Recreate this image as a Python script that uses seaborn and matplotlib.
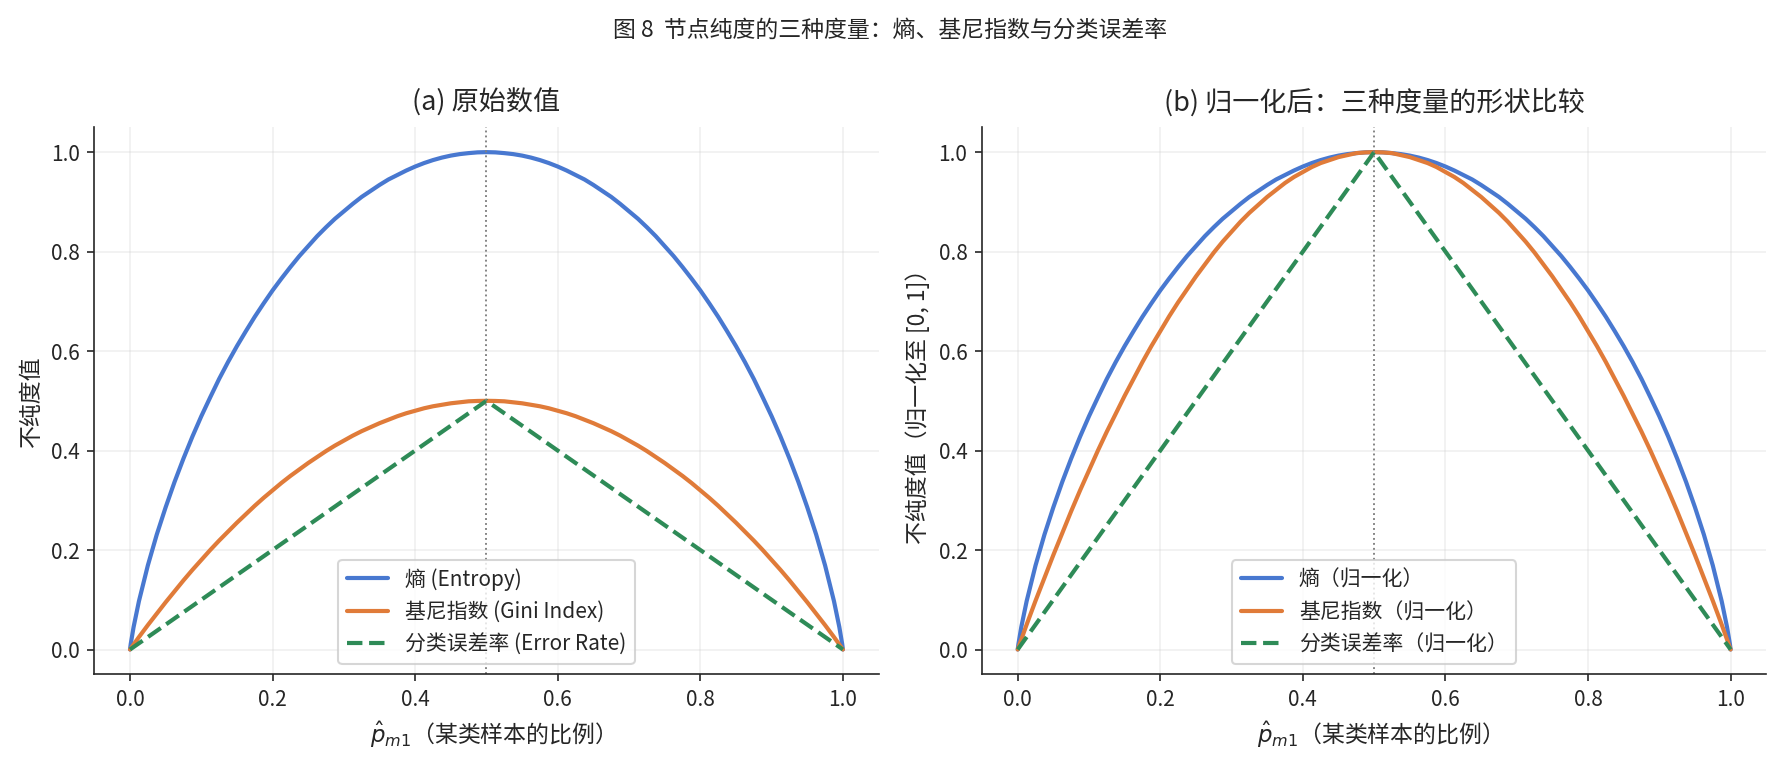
import numpy as np
import pandas as pd
import matplotlib
matplotlib.use('Agg')
import matplotlib.pyplot as plt
import seaborn as sns

# 横轴：某类样本的比例 p_m1
p = [0.0, 0.001, 0.005, 0.0125, 0.025, 0.0375, 0.05, 0.0625, 0.075, 0.0875,
     0.1, 0.1125, 0.125, 0.1375, 0.15, 0.1625, 0.175, 0.1875, 0.2, 0.2125,
     0.225, 0.2375, 0.25, 0.2625, 0.275, 0.2875, 0.3, 0.3125, 0.325, 0.3375,
     0.35, 0.3625, 0.375, 0.3875, 0.4, 0.4125, 0.425, 0.4375, 0.45, 0.4625,
     0.475, 0.4875, 0.5,
     0.5125, 0.525, 0.5375, 0.55, 0.5625, 0.575, 0.5875, 0.6, 0.6125, 0.625,
     0.6375, 0.65, 0.6625, 0.675, 0.6875, 0.7, 0.7125, 0.725, 0.7375, 0.75,
     0.7625, 0.775, 0.7875, 0.8, 0.8125, 0.825, 0.8375, 0.85, 0.8625, 0.875,
     0.8875, 0.9, 0.9125, 0.925, 0.9375, 0.95, 0.9625, 0.975, 0.9875, 0.995,
     0.999, 1.0]

# 熵
entropy = [0.0, 0.011, 0.045, 0.097, 0.169, 0.231, 0.286, 0.337, 0.384, 0.428,
           0.469, 0.507, 0.544, 0.578, 0.610, 0.640, 0.669, 0.696, 0.722, 0.746,
           0.769, 0.791, 0.811, 0.831, 0.849, 0.866, 0.881, 0.896, 0.910, 0.922,
           0.934, 0.945, 0.954, 0.963, 0.971, 0.978, 0.984, 0.989, 0.993, 0.996,
           0.998, 0.9995, 1.0,
           0.9995, 0.998, 0.996, 0.993, 0.989, 0.984, 0.978, 0.971, 0.963, 0.954,
           0.945, 0.934, 0.922, 0.910, 0.896, 0.881, 0.866, 0.849, 0.831, 0.811,
           0.791, 0.769, 0.746, 0.722, 0.696, 0.669, 0.640, 0.610, 0.578, 0.544,
           0.507, 0.469, 0.428, 0.384, 0.337, 0.286, 0.231, 0.169, 0.097, 0.045,
           0.011, 0.0]

# 基尼指数
gini = [0.0, 0.002, 0.010, 0.025, 0.049, 0.072, 0.095, 0.117, 0.139, 0.160,
        0.180, 0.200, 0.219, 0.237, 0.255, 0.272, 0.289, 0.305, 0.320, 0.335,
        0.349, 0.362, 0.375, 0.387, 0.399, 0.410, 0.420, 0.430, 0.439, 0.447,
        0.455, 0.462, 0.469, 0.475, 0.480, 0.485, 0.489, 0.492, 0.495, 0.497,
        0.499, 0.4997, 0.5,
        0.4997, 0.499, 0.497, 0.495, 0.492, 0.489, 0.485, 0.480, 0.475, 0.469,
        0.462, 0.455, 0.447, 0.439, 0.430, 0.420, 0.410, 0.399, 0.387, 0.375,
        0.362, 0.349, 0.335, 0.320, 0.305, 0.289, 0.272, 0.255, 0.237, 0.219,
        0.200, 0.180, 0.160, 0.139, 0.117, 0.095, 0.072, 0.049, 0.025, 0.010,
        0.002, 0.0]

# 分类误差率（折线，三个拐点）
p_err = [0.0, 0.5, 1.0]
error = [0.0, 0.5, 0.0]

labels_a = ['熵 (Entropy)', '基尼指数 (Gini Index)', '分类误差率 (Error Rate)']
labels_b = ['熵（归一化）', '基尼指数（归一化）', '分类误差率（归一化）']

c_blue = '#4878D0'
c_orange = '#E07B39'
c_green = '#2E8B57'

sns.set_style('ticks')
plt.rcParams['font.family'] = ['Noto Sans CJK SC', 'DejaVu Sans']
plt.rcParams['axes.unicode_minus'] = False

fig, axes = plt.subplots(1, 2, figsize=(11.87, 5.08), dpi=150)

panels = [
    (axes[0], np.array(entropy), np.array(gini), np.array(error), labels_a,
     '(a) 原始数值', '不纯度值'),
    (axes[1], np.array(entropy) / max(entropy), np.array(gini) / max(gini),
     np.array(error) / max(error), labels_b,
     '(b) 归一化后：三种度量的形状比较', '不纯度值（归一化至 [0, 1]）'),
]

for ax, h, g, e, labs, title, ylab in panels:
    sns.lineplot(x=p, y=h, ax=ax, color=c_blue, linewidth=2, label=labs[0])
    sns.lineplot(x=p, y=g, ax=ax, color=c_orange, linewidth=2, label=labs[1])
    sns.lineplot(x=p_err, y=e, ax=ax, color=c_green, linewidth=2,
                 linestyle='--', label=labs[2])
    ax.axvline(0.5, color='gray', linestyle=':', linewidth=0.9)
    ax.set_title(title, fontsize=13, pad=8)
    ax.set_xlabel(r'$\hat{p}_{m1}$（某类样本的比例）', fontsize=11)
    ax.set_ylabel(ylab, fontsize=11)
    ax.set_xticks([0.0, 0.2, 0.4, 0.6, 0.8, 1.0])
    ax.set_yticks([0.0, 0.2, 0.4, 0.6, 0.8, 1.0])
    ax.tick_params(labelsize=10)
    ax.grid(True, alpha=0.3)
    ax.legend(loc='lower center', fontsize=10)
    sns.despine(ax=ax)

fig.suptitle('图 8  节点纯度的三种度量：熵、基尼指数与分类误差率',
             fontsize=11, y=0.975)
fig.subplots_adjust(left=0.053, right=0.992, top=0.833, bottom=0.115,
                    wspace=0.132)
fig.savefig('out.png', dpi=150)
